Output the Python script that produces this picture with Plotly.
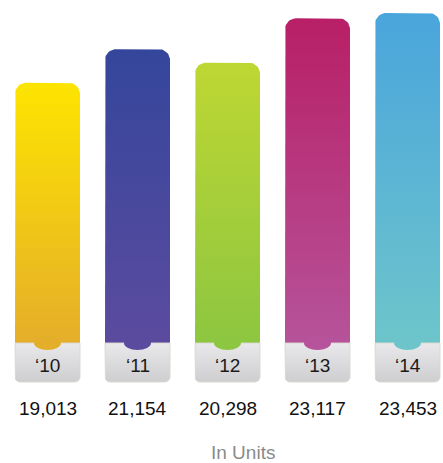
import plotly.graph_objects as go
import numpy as np

years = ["‘10", "‘11", "‘12", "‘13", "‘14"]
values = [19013, 21154, 20298, 23117, 23453]
value_labels = ["19,013", "21,154", "20,298", "23,117", "23,453"]
top_colors = ["#FDE400", "#34469B", "#BED733", "#B81F66", "#4AA5DC"]
bottom_colors = ["#E5AE2A", "#5B4B9F", "#8DC640", "#B6539A", "#6DC5CB"]
unit_label = "In Units"

W, H = 443, 463
base_px = 382          # pixel row of the value axis zero
vmax = max(values)
KY = 369.0 / vmax      # px per value unit
KX = 90.0              # px per category
x_first_px = 47.5

def px_x(dpx):
    return dpx / KX

def px_y(dpx):
    return dpx / KY

hw = px_x(32.5)
box_h = px_y(39)

def rounded_poly(xc, y0, y1, r_px, top=True, n=12):
    """Polygon of a rect from y0 to y1 with rounded corners on top (or bottom)."""
    rx, ry = px_x(r_px), px_y(r_px)
    xs, ys = [], []
    if top:
        xs += [xc - hw]; ys += [y0]
        t = np.linspace(np.pi, np.pi / 2, n)
        xs += list(xc - hw + rx + rx * np.cos(t)); ys += list(y1 - ry + ry * np.sin(t))
        t = np.linspace(np.pi / 2, 0, n)
        xs += list(xc + hw - rx + rx * np.cos(t)); ys += list(y1 - ry + ry * np.sin(t))
        xs += [xc + hw, xc - hw]; ys += [y0, y0]
    else:
        xs += [xc - hw]; ys += [y1]
        t = np.linspace(np.pi, 3 * np.pi / 2, n)
        xs += list(xc - hw + rx + rx * np.cos(t)); ys += list(y0 + ry + ry * np.sin(t))
        t = np.linspace(3 * np.pi / 2, 2 * np.pi, n)
        xs += list(xc + hw - rx + rx * np.cos(t)); ys += list(y0 + ry + ry * np.sin(t))
        xs += [xc + hw, xc - hw]; ys += [y1, y1]
    return xs, ys

fig = go.Figure()
shapes = []
annotations = []
for i, (yr, v, lab, ct, cb) in enumerate(zip(years, values, value_labels, top_colors, bottom_colors)):
    xs, ys = rounded_poly(i, box_h, v, 11, top=True)
    fig.add_trace(go.Scatter(
        x=xs, y=ys, mode="lines", line=dict(width=0), fill="toself",
        fillgradient=dict(type="vertical", colorscale=[[0, cb], [1, ct]]),
        hoverinfo="skip", showlegend=False))
    xs, ys = rounded_poly(i, 0, box_h, 5, top=False)
    fig.add_trace(go.Scatter(
        x=xs, y=ys, mode="lines", line=dict(width=1, color="rgba(218,215,208,0.9)"),
        fill="toself",
        fillgradient=dict(type="vertical", colorscale=[[0, "#CECED0"], [1, "#E9E9EB"]]),
        hoverinfo="skip", showlegend=False))
    shapes.append(dict(type="circle", xref="x", yref="y", layer="above",
                       x0=i - px_x(13.5), x1=i + px_x(13.5),
                       y0=box_h - px_y(7), y1=box_h + px_y(7),
                       fillcolor=cb, line=dict(width=0)))
    annotations.append(dict(x=i, y=-px_y(365 - base_px), text=yr, showarrow=False,
                            font=dict(size=19, color="#1a1a1a", family="Liberation Sans")))
    annotations.append(dict(x=i, y=-px_y(408 - base_px), text=lab, showarrow=False,
                            font=dict(size=19, color="#111111", family="Liberation Sans")))

annotations.append(dict(x=(len(years) - 1) / 2 + px_x(15), y=-px_y(452 - base_px), text=unit_label,
                        showarrow=False, height=20, yanchor="middle",
                        font=dict(size=19, color="#8a8a8a", family="Liberation Sans")))

fig.update_layout(
    width=W, height=H, margin=dict(l=0, r=0, t=0, b=0),
    paper_bgcolor="white", plot_bgcolor="white",
    xaxis=dict(range=[-x_first_px / KX, (W - x_first_px) / KX], visible=False, fixedrange=True),
    yaxis=dict(range=[-(H - base_px) / KY, base_px / KY], visible=False, fixedrange=True),
    shapes=shapes, annotations=annotations, showlegend=False,
)
fig.write_html("out.html")
